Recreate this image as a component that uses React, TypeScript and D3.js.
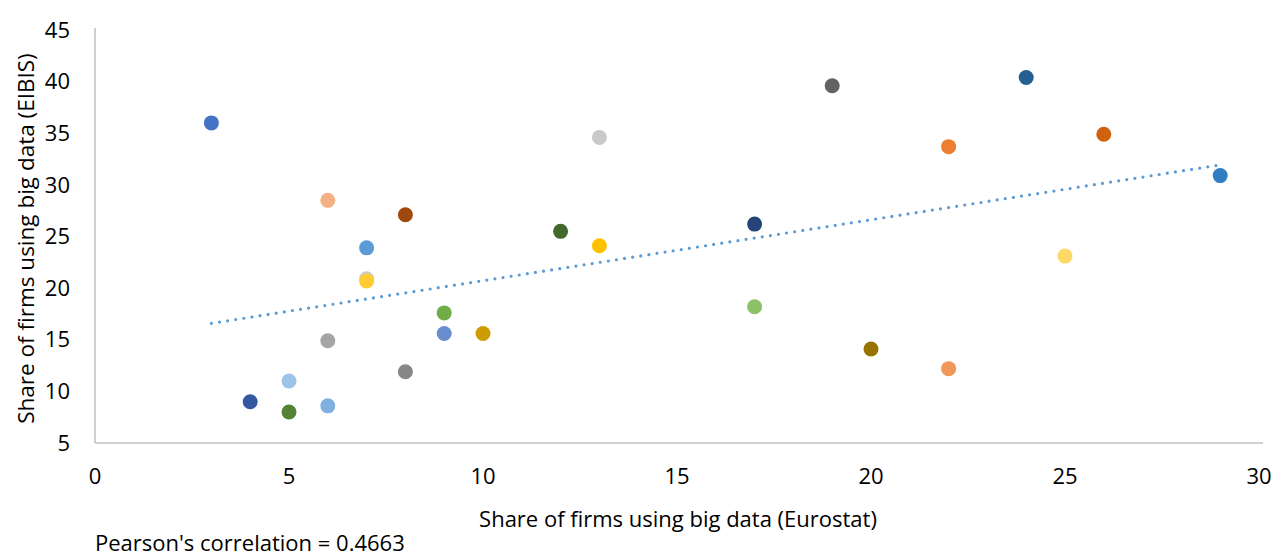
import React from "react";
import * as d3 from "d3";

// Eurostat share (x), EIBIS share (y), marker colour per country
const xValues = [3, 4, 5, 5, 6, 6, 6, 7, 7, 7, 8, 8, 9, 9, 10, 12, 13, 13, 17, 17, 19, 20, 22, 22, 24, 25, 26, 29];
const yValues = [36, 9, 11, 8, 28.5, 14.9, 8.6, 23.9, 20.9, 20.7, 27.1, 11.9, 17.6, 15.6, 15.6, 25.5, 34.6, 24.1, 26.2, 18.2, 39.6, 14.1, 33.7, 12.2, 40.4, 23.1, 34.9, 30.9];
const pointColors = [
  "#4472C4", "#335AA1", "#9DC3E6", "#548235", "#F4B183", "#A5A5A5", "#7FB0DF",
  "#5B9BD5", "#C9C9C9", "#FFCD33", "#9E480E", "#878787", "#70AD47", "#698ED0",
  "#CC9C00", "#43682B", "#C9C9C9", "#FFC000", "#264478", "#8CC168", "#636363",
  "#997300", "#ED7D31", "#F1975A", "#255E91", "#FFD966", "#D0620F", "#327DC2",
];
const xTicks = [0, 5, 10, 15, 20, 25, 30];
const yTicks = [5, 10, 15, 20, 25, 30, 35, 40, 45];

const WIDTH = 1275;
const HEIGHT = 556;
const FONT = "'Open Sans', 'Noto Sans', sans-serif";
const FS = 22;

const App: React.FC = () => {
  const margin = { top: 30, right: 16, bottom: 113, left: 95 };
  const innerW = WIDTH - margin.left - margin.right;
  const innerH = HEIGHT - margin.top - margin.bottom;

  const xScale = d3.scaleLinear().domain([0, 30]).range([0, innerW]);
  const yScale = d3.scaleLinear().domain([5, 45]).range([innerH, 0]);

  const points = xValues.map((x, i) => ({ x, y: yValues[i], color: pointColors[i] }));

  // Linear trend line (least squares)
  const meanX = d3.mean(xValues) as number;
  const meanY = d3.mean(yValues) as number;
  const sxy = d3.sum(xValues, (x, i) => (x - meanX) * (yValues[i] - meanY));
  const sxx = d3.sum(xValues, (x) => (x - meanX) ** 2);
  const slope = sxy / sxx;
  const intercept = meanY - slope * meanX;
  const [minX, maxX] = d3.extent(xValues) as [number, number];
  const trend = [minX, maxX].map((x) => ({ x, y: intercept + slope * x }));
  const line = d3.line<{ x: number; y: number }>()
    .x((d) => xScale(d.x))
    .y((d) => yScale(d.y));

  return (
    <svg
      width={WIDTH}
      height={HEIGHT}
      style={{ position: "absolute", left: 0, top: 0, background: "white", fontFamily: FONT }}
    >
      <g transform={`translate(${margin.left},${margin.top})`}>
        {/* axis lines */}
        <line x1={0} x2={0} y1={-2} y2={innerH} stroke="#BFBFBF" strokeWidth={1.5} />
        <line x1={0} x2={innerW + 4} y1={innerH} y2={innerH} stroke="#BFBFBF" strokeWidth={1.5} />

        {yTicks.map((t) => (
          <text key={`y${t}`} x={-25} y={yScale(t)} dy="0.35em" textAnchor="end" fontSize={FS} fill="#000">
            {t}
          </text>
        ))}
        {xTicks.map((t) => (
          <text key={`x${t}`} x={xScale(t)} y={innerH + 33} dy="0.35em" textAnchor="middle" fontSize={FS} fill="#000">
            {t}
          </text>
        ))}

        {/* trend line */}
        <path
          d={line(trend) || ""}
          fill="none"
          stroke="#5B9BD5"
          strokeWidth={3.2}
          strokeLinecap="round"
          strokeDasharray="0 8.2"
        />

        {points.map((p, i) => (
          <circle key={i} cx={xScale(p.x)} cy={yScale(p.y)} r={7.5} fill={p.color} />
        ))}
      </g>

      <text
        transform={`translate(26,${margin.top + innerH / 2 + 2}) rotate(-90)`}
        textAnchor="middle"
        dy="0.35em"
        fontSize={FS + 0.5}
        fill="#000"
      >
        Share of firms using big data (EIBIS)
      </text>
      <text x={678} y={519} dy="0.35em" textAnchor="middle" fontSize={FS} fill="#000">
        Share of firms using big data (Eurostat)
      </text>
      <text x={95} y={543} dy="0.35em" textAnchor="start" fontSize={FS} fill="#000">
        Pearson's correlation = 0.4663
      </text>
    </svg>
  );
};

export default App;
